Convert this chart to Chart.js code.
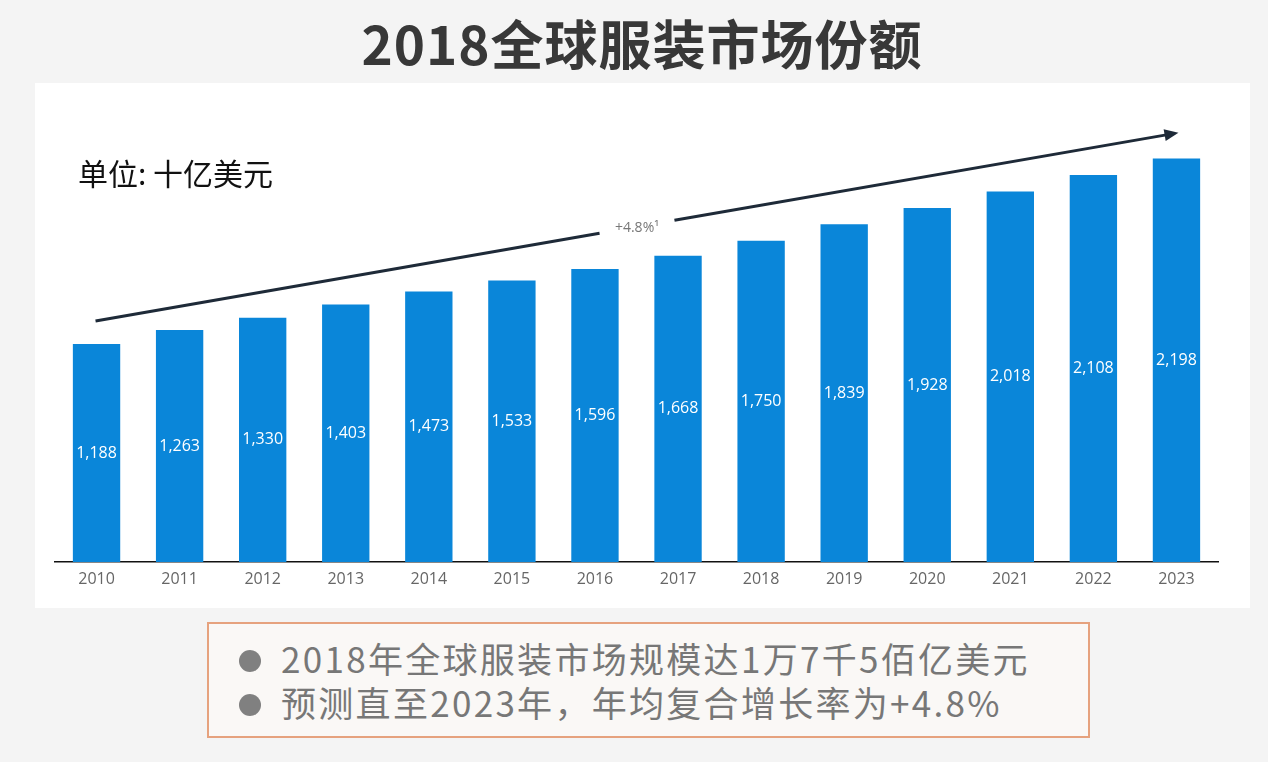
<!DOCTYPE html>
<html>
<head>
<meta charset="utf-8">
<script src="https://cdn.jsdelivr.net/npm/chart.js@4/dist/chart.umd.min.js"></script>
<style>
  body { margin: 0; width: 1268px; height: 762px; background: #f4f4f4; position: relative; overflow: hidden;
         font-family: "Noto Sans CJK SC", "Noto Sans", sans-serif; }
  #title { position: absolute; left: 8px; top: 4px; width: 1268px; text-align: center; font-size: 53px;
           font-weight: bold; color: #383838; letter-spacing: 1px; }
  #panel { position: absolute; left: 35px; top: 83px; width: 1215px; height: 525px; background: #fff; }
  #unit { position: absolute; left: 78px; top: 150px; font-size: 30px; color: #111; }
  #note { position: absolute; left: 207px; top: 622px; width: 883px; height: 116px; box-sizing: border-box;
          border: 2px solid #e6a27e; background: #faf8f6; color: #777; font-size: 35px; letter-spacing: 2.3px; }
  #note div { position: absolute; left: 30px; white-space: nowrap; }
  #note span { display: inline-block; width: 22px; height: 22px; border-radius: 50%; background: #808080;
               margin-right: 20px; vertical-align: middle; position: relative; top: -3px; }
</style>
</head>
<body>
<div id="title">2018全球服装市场份额</div>
<div id="panel"><canvas id="chart" width="1215" height="525"></canvas></div>
<div id="unit">单位: 十亿美元</div>
<div id="note">
  <div style="top:8px"><span></span>2018年全球服装市场规模达1万7千5佰亿美元</div>
  <div style="top:52px"><span></span>预测直至2023年，年均复合增长率为+4.8%</div>
</div>
<script>
const years = ['2010', '2011', '2012', '2013', '2014', '2015', '2016', '2017', '2018', '2019', '2020', '2021', '2022', '2023'];
const marketSize = [1188, 1263, 1330, 1403, 1473, 1533, 1596, 1668, 1750, 1839, 1928, 2018, 2108, 2198];
// trend arrow, in data units: from first to last category
const trendStart = 1313;
const trendEnd = 2338;
const trendLabel = '+4.8%¹';

const valueLabels = {
  id: 'valueLabels',
  afterDatasetsDraw(chart) {
    const ctx = chart.ctx;
    const meta = chart.getDatasetMeta(0);
    ctx.save();
    ctx.fillStyle = '#ffffff';
    ctx.font = '16px "Open Sans", "Noto Sans", sans-serif';
    ctx.textAlign = 'center';
    ctx.textBaseline = 'middle';
    meta.data.forEach((bar, i) => {
      const mid = (bar.y + bar.base) / 2;
      ctx.fillText(marketSize[i].toLocaleString('en-US'), bar.x, mid);
    });
    ctx.restore();
  }
};

const trendArrow = {
  id: 'trendArrow',
  afterDraw(chart) {
    const ctx = chart.ctx;
    const x = chart.scales.x, y = chart.scales.y;
    const x1 = x.getPixelForValue(0) - 1, y1 = y.getPixelForValue(trendStart);
    const x2 = x.getPixelForValue(years.length - 1) + 2, y2 = y.getPixelForValue(trendEnd);
    const ang = Math.atan2(y2 - y1, x2 - x1);
    const mx = (x1 + x2) / 2, my = (y1 + y2) / 2;
    const gap = 38;
    ctx.save();
    ctx.strokeStyle = '#1e2a38';
    ctx.lineWidth = 3;
    ctx.beginPath();
    ctx.moveTo(x1, y1);
    ctx.lineTo(mx - gap * Math.cos(ang), my - gap * Math.sin(ang));
    ctx.moveTo(mx + gap * Math.cos(ang), my + gap * Math.sin(ang));
    ctx.lineTo(x2 - 8 * Math.cos(ang), y2 - 8 * Math.sin(ang));
    ctx.stroke();
    // arrow head
    ctx.fillStyle = '#1e2a38';
    ctx.beginPath();
    ctx.moveTo(x2, y2);
    ctx.lineTo(x2 - 14 * Math.cos(ang) + 6 * Math.sin(ang), y2 - 14 * Math.sin(ang) - 6 * Math.cos(ang));
    ctx.lineTo(x2 - 14 * Math.cos(ang) - 6 * Math.sin(ang), y2 - 14 * Math.sin(ang) + 6 * Math.cos(ang));
    ctx.closePath();
    ctx.fill();
    ctx.fillStyle = '#777';
    ctx.font = '14px "Open Sans", "Noto Sans", sans-serif';
    ctx.textAlign = 'center';
    ctx.textBaseline = 'middle';
    ctx.fillText(trendLabel, mx, my + 1);
    ctx.restore();
  }
};

new Chart(document.getElementById('chart'), {
  type: 'bar',
  data: {
    labels: years,
    datasets: [{
      data: marketSize,
      backgroundColor: '#0a86d9',
      categoryPercentage: 1,
      barPercentage: 0.57
    }]
  },
  options: {
    responsive: false,
    animation: false,
    layout: { padding: { left: 20, right: 32, top: 20, bottom: 0 } },
    plugins: { legend: { display: false }, tooltip: { enabled: false } },
    scales: {
      x: {
        grid: { display: false },
        border: { color: '#111', width: 1.5 },
        ticks: { color: '#666', font: { size: 16, family: '"Open Sans", "Noto Sans", sans-serif' }, padding: 0 },
        afterFit(scale) { scale.height = 46; }
      },
      y: { display: false, min: 0, max: 2500 }
    }
  },
  plugins: [valueLabels, trendArrow]
});
</script>
</body>
</html>
